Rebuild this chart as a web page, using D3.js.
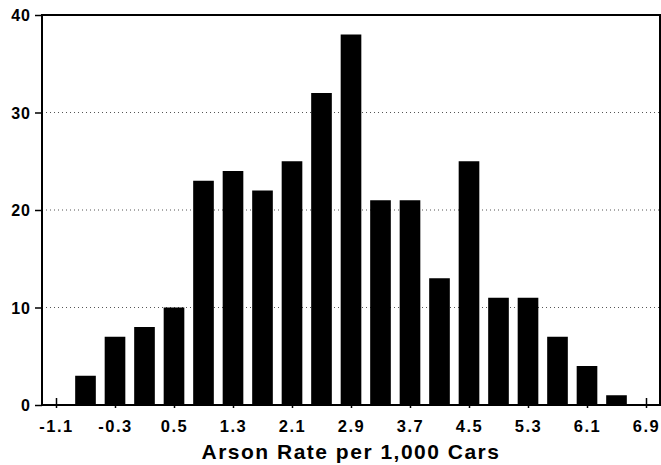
<!DOCTYPE html>
<html>
<head>
<meta charset="utf-8">
<script src="https://cdn.jsdelivr.net/npm/d3@7"></script>
<style>
  body { margin: 0; background: #fff; }
  text { font-family: "Liberation Sans", Arial, sans-serif; font-weight: bold; fill: #000; }
</style>
</head>
<body>
<svg width="661" height="465"></svg>
<script>
// bin centres and counts
var binCenters = [-0.7, -0.3, 0.1, 0.5, 0.9, 1.3, 1.7, 2.1, 2.5, 2.9, 3.3, 3.7, 4.1, 4.5, 4.9, 5.3, 5.7, 6.1, 6.5];
var counts = [3, 7, 8, 10, 23, 24, 22, 25, 32, 38, 21, 21, 13, 25, 11, 11, 7, 4, 1];
var xTicks = [-1.1, -0.3, 0.5, 1.3, 2.1, 2.9, 3.7, 4.5, 5.3, 6.1, 6.9];
var yTicks = [0, 10, 20, 30, 40];

var svg = d3.select("svg");
var plotL = 42, plotR = 660, plotT = 15, plotB = 405;

var x = d3.scaleLinear().domain([-1.1, 6.9]).range([56, 646]);
var y = d3.scaleLinear().domain([0, 40]).range([plotB, plotT]);
var barW = x(0.28) - x(0);

var data = binCenters.map(function(c, i) { return [c, counts[i]]; });

// dotted grid
svg.selectAll(".grid")
  .data(yTicks.filter(function(d) { return d > 0 && d < 40; }))
  .enter().append("line")
  .attr("x1", plotL).attr("x2", plotR)
  .attr("y1", function(d) { return y(d); })
  .attr("y2", function(d) { return y(d); })
  .attr("stroke", "#555")
  .attr("stroke-width", 1)
  .attr("stroke-dasharray", "1,3");

// bars
svg.selectAll(".bar")
  .data(data)
  .enter().append("rect")
  .attr("x", function(d) { return x(d[0]) - barW / 2; })
  .attr("y", function(d) { return y(d[1]); })
  .attr("width", barW)
  .attr("height", function(d) { return plotB - y(d[1]); })
  .attr("fill", "#000");

// frame
svg.append("path")
  .attr("d", "M" + plotL + "," + plotB + "V" + plotT + "H" + plotR + "V" + plotB + "H" + plotL)
  .attr("fill", "none")
  .attr("stroke", "#000")
  .attr("stroke-width", 2);

// y axis
var yAxis = svg.append("g")
  .attr("transform", "translate(" + plotL + ",0)")
  .call(d3.axisLeft(y).tickValues(yTicks).tickSize(7).tickPadding(4));
yAxis.select(".domain").remove();
yAxis.selectAll("line").attr("stroke-width", 1.5);
yAxis.selectAll("text").attr("font-size", "16px").attr("letter-spacing", "1px").attr("dy", "0.35em");

// x axis
var xAxis = svg.append("g")
  .attr("transform", "translate(0," + plotB + ")")
  .call(d3.axisBottom(x).tickValues(xTicks).tickSize(3).tickPadding(12)
    .tickFormat(function(d) { return d.toFixed(1); }));
xAxis.select(".domain").remove();
xAxis.selectAll("line").attr("y1", -7).attr("stroke-width", 1.5);
xAxis.selectAll("text").attr("font-size", "16.5px").attr("letter-spacing", "1.5px");

svg.append("text")
  .attr("x", (plotL + plotR) / 2)
  .attr("y", 459)
  .attr("text-anchor", "middle")
  .attr("font-size", "21px")
  .attr("letter-spacing", "1.5px")
  .text("Arson Rate per 1,000 Cars");
</script>
</body>
</html>
